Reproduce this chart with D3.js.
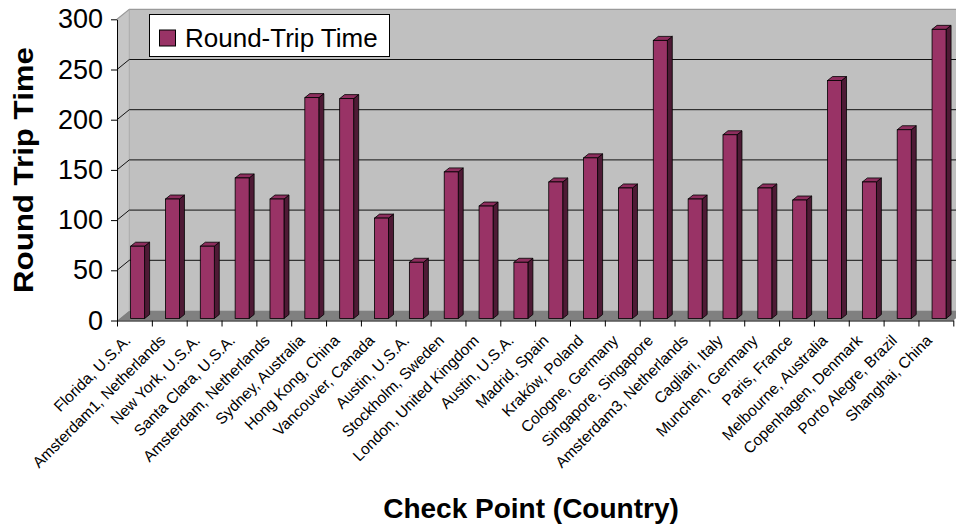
<!DOCTYPE html>
<html>
<head>
<meta charset="utf-8">
<script src="https://cdn.jsdelivr.net/npm/d3@7"></script>
<style>
  html, body { margin: 0; padding: 0; background: #ffffff; }
  svg { display: block; }
  text { font-family: Arial, "Liberation Sans", sans-serif; }
</style>
</head>
<body>
<svg id="chart" width="956" height="527"></svg>
<script>
// Check points and their measured round-trip times
const categories = [
  "Florida, U.S.A.", "Amsterdam1, Netherlands", "New York, U.S.A.", "Santa Clara, U.S.A.",
  "Amsterdam, Netherlands", "Sydney, Australia", "Hong Kong, China", "Vancouver, Canada",
  "Austin, U.S.A.", "Stockholm, Sweden", "London, United Kingdom", "Austin, U.S.A. ",
  "Madrid, Spain", "Kraków, Poland", "Cologne, Germany", "Singapore, Singapore",
  "Amsterdam3, Netherlands", "Cagliari, Italy", "Munchen, Germany", "Paris, France",
  "Melbourne, Australia", "Copenhagen, Denmark", "Porto Alegre, Brazil", "Shanghai, China"
];
const roundTrip = [
  72, 119, 72, 140, 119, 220, 219, 100,
  56, 146, 112, 56, 136, 160, 130, 277,
  119, 183, 130, 118, 237, 136, 188, 288
];
const yTicks = [0, 50, 100, 150, 200, 250, 300];
const seriesName = "Round-Trip Time";
const yTitle = "Round Trip Time";
const xTitle = "Check Point (Country)";

const svg = d3.select("#chart");

// Front plane of the 3-D box and its depth offset
const plotL = 117, plotR = 953.3, plotT = 19.3, plotB = 320.5;
const depthX = 12.3, depthY = -10;

const x = d3.scaleBand().domain(categories).range([plotL, plotR]).padding(0);
const xIdx = d3.scaleLinear().domain([0, categories.length]).range([plotL, plotR]);
const y = d3.scaleLinear().domain([0, 300]).range([plotB, plotT]);
const yBack = v => y(v) + depthY;

// Walls and floor
const wallG = svg.append("g");
wallG.append("polygon")
  .attr("points", [[plotL + depthX, yBack(300)], [plotR + depthX, yBack(300)],
                   [plotR + depthX, yBack(0)], [plotL + depthX, yBack(0)]].join(" "))
  .attr("fill", "#c0c0c0");
wallG.append("polygon")
  .attr("points", [[plotL, y(300)], [plotL + depthX, yBack(300)],
                   [plotL + depthX, yBack(0)], [plotL, y(0)]].join(" "))
  .attr("fill", "#c6c6c6");
wallG.append("polygon")
  .attr("points", [[plotL, y(0)], [plotR, y(0)],
                   [plotR + depthX, yBack(0)], [plotL + depthX, yBack(0)]].join(" "))
  .attr("fill", "#808080");
// wall edges
wallG.append("polyline")
  .attr("points", [[plotL, y(300)], [plotL + depthX, yBack(300)], [plotR + depthX, yBack(300)]].join(" "))
  .attr("fill", "none").attr("stroke", "#9a9a9a").attr("stroke-width", 1.2);
wallG.append("line")
  .attr("x1", plotL + depthX).attr("x2", plotL + depthX)
  .attr("y1", yBack(300)).attr("y2", yBack(0))
  .attr("stroke", "#a8a8a8").attr("stroke-width", 1);

// Gridlines across side and back walls
const grid = svg.append("g");
yTicks.filter(v => v > 0 && v < 300).forEach(v => {
  grid.append("polyline")
    .attr("points", [[plotL, y(v)], [plotL + depthX, yBack(v)], [plotR + depthX, yBack(v)]].join(" "))
    .attr("fill", "none").attr("stroke", "#111").attr("stroke-width", 1);
});

// 3-D columns
const barShift = 13.6, barW = 14, sideX = 5, sideY = -4, barDy = -2;
const bars = svg.append("g").selectAll("g").data(categories).join("g");
bars.each(function (c, i) {
  const g = d3.select(this);
  const x0 = x(c) + barShift;
  const yt = y(roundTrip[i]) + barDy;
  const yb = y(0) + barDy;
  g.append("polygon")
    .attr("points", [[x0 + barW, yt], [x0 + barW + sideX, yt + sideY],
                     [x0 + barW + sideX, yb + sideY], [x0 + barW, yb]].join(" "))
    .attr("fill", "#4e1a35").attr("stroke", "#000").attr("stroke-width", 0.8);
  g.append("polygon")
    .attr("points", [[x0, yt], [x0 + sideX, yt + sideY],
                     [x0 + barW + sideX, yt + sideY], [x0 + barW, yt]].join(" "))
    .attr("fill", "#8e2e5e").attr("stroke", "#000").attr("stroke-width", 0.8);
  g.append("rect")
    .attr("x", x0).attr("y", yt)
    .attr("width", barW).attr("height", yb - yt)
    .attr("fill", "#993366").attr("stroke", "#000").attr("stroke-width", 0.8);
});

// Value axis
const yAxis = svg.append("g")
  .attr("transform", `translate(${plotL},0)`)
  .call(d3.axisLeft(y).tickValues(yTicks).tickSize(6).tickSizeOuter(0).tickPadding(8));
yAxis.select(".domain").attr("stroke", "#000");
yAxis.selectAll(".tick line").attr("stroke", "#000");
yAxis.selectAll(".tick text")
  .attr("font-size", 27).attr("fill", "#000")
  .style("font-family", "Arial, 'Liberation Sans', sans-serif");

// Category axis (tick marks at category boundaries)
const xAxis = svg.append("g")
  .attr("transform", `translate(0,${plotB})`)
  .call(d3.axisBottom(xIdx).tickValues(d3.range(0, categories.length + 1))
          .tickSize(6).tickSizeOuter(0).tickFormat(""));
xAxis.select(".domain").attr("stroke", "#000");
xAxis.selectAll(".tick line").attr("stroke", "#000");

// Rotated category labels
svg.append("g").selectAll("text").data(categories).join("text")
  .attr("transform", c => `translate(${x(c) + x.bandwidth() / 2 - 3},${plotB + 21}) rotate(-45)`)
  .attr("text-anchor", "end")
  .attr("font-size", 15.5)
  .attr("fill", "#000")
  .text(c => c.trim());

// Axis titles
svg.append("text")
  .attr("transform", `translate(33,170) rotate(-90)`)
  .attr("text-anchor", "middle")
  .attr("font-size", 28).attr("font-weight", "bold")
  .attr("textLength", 246).attr("lengthAdjust", "spacingAndGlyphs")
  .text(yTitle);
svg.append("text")
  .attr("x", 531).attr("y", 518)
  .attr("text-anchor", "middle")
  .attr("font-size", 28).attr("font-weight", "bold")
  .text(xTitle);

// Legend
const legend = svg.append("g");
legend.append("rect")
  .attr("x", 149.5).attr("y", 14.5).attr("width", 240).attr("height", 42)
  .attr("fill", "#fff").attr("stroke", "#000").attr("stroke-width", 1);
legend.append("rect")
  .attr("x", 159.5).attr("y", 30).attr("width", 16).attr("height", 16)
  .attr("fill", "#993366").attr("stroke", "#000").attr("stroke-width", 1);
legend.append("text")
  .attr("x", 185).attr("y", 46.5)
  .attr("font-size", 26).attr("fill", "#000")
  .text(seriesName);
</script>
</body>
</html>
